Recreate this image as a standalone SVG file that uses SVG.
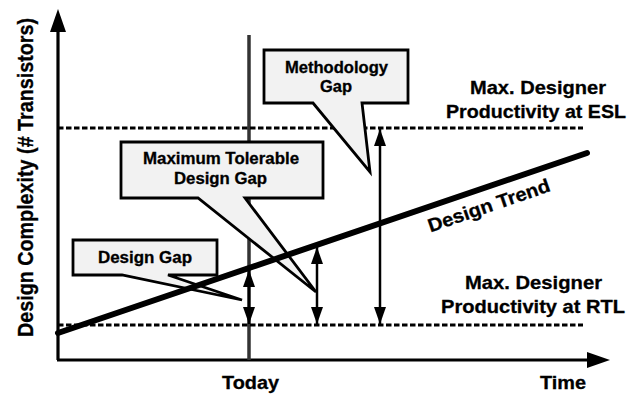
<svg xmlns="http://www.w3.org/2000/svg" width="633" height="396" viewBox="0 0 633 396">
<style>
.t{font-family:"Liberation Sans",Arial,sans-serif;font-weight:bold;fill:#000;stroke:#000;stroke-width:0.3}
.h{font-size:18.5px}
.c{font-size:16px}
.dash{stroke:#000;stroke-width:3;stroke-dasharray:5.5 2.5;fill:none}
.call{fill:#f2f2f2;stroke:#000;stroke-width:2.8;stroke-linejoin:miter}
.gap{stroke:#000;stroke-width:2.5;fill:none;marker-start:url(#ah);marker-end:url(#ah)}
</style>
<defs>
<marker id="ah" markerUnits="userSpaceOnUse" markerWidth="18" markerHeight="12" refX="17" refY="6" orient="auto-start-reverse">
<path d="M0,0 L17,6 L0,12 Z" fill="#000"/>
</marker>
</defs>
<rect width="633" height="396" fill="#fff"/>
<g id="axes">
<line x1="58" y1="28" x2="58" y2="360" stroke="#000" stroke-width="3.2"/>
<polygon points="58,9 50,32 66,32" fill="#000"/>
<line x1="57" y1="360" x2="590" y2="360" stroke="#000" stroke-width="3.2"/>
<polygon points="610,360 587,352 587,368" fill="#000"/>
<text class="t" transform="translate(33,177.5) rotate(-90) scale(1,1.13)" font-size="20" x="-159.5" y="0" textLength="319" lengthAdjust="spacingAndGlyphs">Design Complexity (# Transistors)</text>
<text class="t h" x="222" y="389" textLength="57" lengthAdjust="spacingAndGlyphs">Today</text>
<text class="t h" x="540" y="389" textLength="46" lengthAdjust="spacingAndGlyphs">Time</text>
</g>
<g id="today-line">
<line x1="249" y1="35" x2="249" y2="360" stroke="#333" stroke-width="3.5"/>
</g>
<g id="levels">
<line class="dash" x1="58" y1="128" x2="583" y2="128"/>
<line class="dash" x1="58" y1="325" x2="583" y2="325"/>
<text class="t h" x="470" y="94" textLength="136" lengthAdjust="spacingAndGlyphs">Max. Designer</text>
<text class="t h" x="446" y="118" textLength="180" lengthAdjust="spacingAndGlyphs">Productivity at ESL</text>
<text class="t h" x="465" y="289" textLength="137" lengthAdjust="spacingAndGlyphs">Max. Designer</text>
<text class="t h" x="441" y="313" textLength="184" lengthAdjust="spacingAndGlyphs">Productivity at RTL</text>
</g>
<g id="methodology-gap">
<path class="call" d="M264,50 H408 V103 H362 L370,172 L313,103 H264 Z"/>
<text class="t c" x="285" y="73" textLength="103" lengthAdjust="spacingAndGlyphs">Methodology</text>
<text class="t c" x="320" y="92" textLength="32" lengthAdjust="spacingAndGlyphs">Gap</text>
</g>
<g id="max-tolerable-gap">
<path class="call" d="M121,142 H323 V198 H245 L316,292 L198,198 H121 Z"/>
<text class="t c" x="143" y="164" textLength="156" lengthAdjust="spacingAndGlyphs">Maximum Tolerable</text>
<text class="t c" x="174" y="184" textLength="93" lengthAdjust="spacingAndGlyphs">Design Gap</text>
</g>
<g id="design-gap">
<path class="call" d="M73,240 H217 V275 H168 L242,300 L122,275 H73 Z"/>
<text class="t c" x="98" y="263" textLength="94" lengthAdjust="spacingAndGlyphs">Design Gap</text>
</g>
<g id="trend">
<line x1="58" y1="333" x2="587" y2="153" stroke="#000" stroke-width="6" stroke-linecap="round"/>
<text class="t" font-size="19" transform="translate(490,212) rotate(-19)" x="-63" y="0" textLength="128" lengthAdjust="spacingAndGlyphs">Design Trend</text>
</g>
<g id="connectors">
<line class="gap" x1="249" y1="270" x2="249" y2="324"/>
<line class="gap" x1="317" y1="247" x2="317" y2="324"/>
<line class="gap" x1="380" y1="129" x2="380" y2="324"/>
</g>
</svg>
